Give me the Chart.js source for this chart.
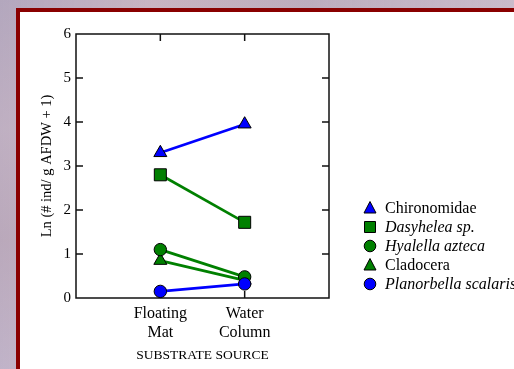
<!DOCTYPE html>
<html>
<head>
<meta charset="utf-8">
<script src="https://cdn.jsdelivr.net/npm/chart.js@4/dist/chart.umd.min.js"></script>
<style>
  html, body { margin: 0; padding: 0; overflow: hidden; }
  body {
    width: 514px; height: 369px;
    background:
      linear-gradient(90deg, rgba(170,160,190,0.5), rgba(220,190,200,0.4) 30%, rgba(190,170,190,0.4) 60%, rgba(215,200,215,0.5)),
      linear-gradient(180deg, #bcaebd, #d4bfc6 35%, #c9b1b8 65%, #d6c6d3);
  }
  #frame {
    position: absolute; left: 16px; top: 8px; width: 520px; height: 380px;
    background: #fff;
    border-left: 4px solid #8a0000; border-top: 4px solid #8a0000;
  }
  #wrap { position: absolute; left: 0; top: 0; width: 514px; height: 369px; }
</style>
</head>
<body>
<div id="frame"></div>
<div id="wrap"><canvas id="lnChart"></canvas></div>
<script>
/*
    Substrate source line chart
*/
var categories = ['', ['Floating', 'Mat'], ['Water', 'Column'], ''];
var yTicks = [0, 1, 2, 3, 4, 5, 6];

var chironomidae = [null, 3.3, 3.95, null];
var dasyhelea = [null, 2.8, 1.72, null];
var hyalella = [null, 1.1, 0.48, null];
var cladocera = [null, 0.85, 0.4, null];
var planorbella = [null, 0.15, 0.32, null];

var seriesNames = ['Chironomidae', 'Dasyhelea sp.', 'Hyalella azteca', 'Cladocera', 'Planorbella scalaris'];
var seriesItalic = [false, true, true, false, true];

var BLUE = '#0000ff';
var GREEN = '#008000';
var SERIF = "'Liberation Serif', 'Times New Roman', serif";

function series(i, data, color, style, radius, order) {
    return {
        label: seriesNames[i],
        data: data,
        borderColor: color,
        backgroundColor: color,
        borderWidth: 2.7,
        pointStyle: style,
        pointRadius: radius,
        pointBorderColor: '#000',
        pointBorderWidth: 1,
        pointBackgroundColor: color,
        order: order,
        clip: false,
        italic: seriesItalic[i]
    };
}

/* box round the plot with inward ticks on all four sides */
var frameTicks = {
    id: 'frameTicks',
    beforeDatasetsDraw: function (chart) {
        var ctx = chart.ctx, a = chart.chartArea;
        var x = chart.scales.x, y = chart.scales.y;
        ctx.save();
        ctx.strokeStyle = '#111';
        ctx.lineWidth = 1.5;
        ctx.strokeRect(a.left, a.top, a.right - a.left, a.bottom - a.top);
        ctx.beginPath();
        for (var i = 1; i < categories.length - 1; i++) {
            var px = x.getPixelForValue(i);
            ctx.moveTo(px, a.bottom); ctx.lineTo(px, a.bottom - 7);
            ctx.moveTo(px, a.top); ctx.lineTo(px, a.top + 7);
        }
        for (var j = 1; j < yTicks.length - 1; j++) {
            var py = y.getPixelForValue(yTicks[j]);
            ctx.moveTo(a.left, py); ctx.lineTo(a.left + 7, py);
            ctx.moveTo(a.right, py); ctx.lineTo(a.right - 7, py);
        }
        ctx.stroke();
        ctx.restore();
    }
};

function marker(ctx, style, cx, cy, color) {
    ctx.beginPath();
    if (style === 'triangle') {
        ctx.moveTo(cx, cy - 6.5);
        ctx.lineTo(cx + 6, cy + 5);
        ctx.lineTo(cx - 6, cy + 5);
        ctx.closePath();
    } else if (style === 'rect') {
        ctx.rect(cx - 5.5, cy - 5.5, 11, 11);
    } else {
        ctx.arc(cx, cy, 5.8, 0, Math.PI * 2);
    }
    ctx.fillStyle = color;
    ctx.fill();
    ctx.strokeStyle = '#000';
    ctx.lineWidth = 1;
    ctx.stroke();
}

/* legend with italic species names */
var sideLegend = {
    id: 'sideLegend',
    afterDraw: function (chart) {
        var ctx = chart.ctx;
        ctx.save();
        ctx.textBaseline = 'middle';
        chart.data.datasets.forEach(function (ds, i) {
            var cy = 208 + i * 19;
            marker(ctx, ds.pointStyle, 370, cy, ds.borderColor);
            ctx.fillStyle = '#000';
            ctx.font = (ds.italic ? 'italic ' : '') + '16px ' + SERIF;
            ctx.fillText(ds.label, 385, cy + 1);
        });
        ctx.restore();
    }
};

var ctxL = document.getElementById('lnChart').getContext('2d');
var lnChart = new Chart(ctxL, {
    type: 'line',
    data: {
        labels: categories,
        datasets: [
            series(0, chironomidae, BLUE, 'triangle', 7.5, 4),
            series(1, dasyhelea, GREEN, 'rect', 8.5, 3),
            series(2, hyalella, GREEN, 'circle', 6.2, 1),
            series(3, cladocera, GREEN, 'triangle', 7.5, 2),
            series(4, planorbella, BLUE, 'circle', 6.2, 0)
        ]
    },
    options: {
        responsive: true,
        maintainAspectRatio: false,
        animation: false,
        layout: { padding: { top: 34, right: 185, left: 0, bottom: 0 } },
        plugins: {
            legend: { display: false },
            tooltip: { enabled: false }
        },
        scales: {
            x: {
                type: 'category',
                offset: false,
                grid: { display: false, drawTicks: false },
                border: { display: false },
                afterFit: function (s) { s.height = 71; },
                ticks: {
                    color: '#000',
                    padding: 6,
                    maxRotation: 0,
                    autoSkip: false,
                    font: { family: SERIF, size: 16, lineHeight: 1.2 }
                },
                title: {
                    display: true,
                    text: 'SUBSTRATE SOURCE',
                    color: '#000',
                    padding: { top: 0, bottom: 5 },
                    font: { family: SERIF, size: 13.5 }
                }
            },
            y: {
                min: 0,
                max: 6,
                grid: { display: false, drawTicks: false },
                border: { display: false },
                afterFit: function (s) { s.width = 76; },
                afterBuildTicks: function (s) {
                    s.ticks = yTicks.map(function (v) { return { value: v }; });
                },
                ticks: {
                    color: '#000',
                    padding: 5,
                    font: { family: SERIF, size: 15 }
                },
                title: {
                    display: true,
                    text: 'Ln (# ind/ g AFDW + 1)',
                    color: '#000',
                    padding: { top: 38, bottom: 0 },
                    font: { family: SERIF, size: 14.5 }
                }
            }
        }
    },
    plugins: [frameTicks, sideLegend]
});
</script>
</body>
</html>
